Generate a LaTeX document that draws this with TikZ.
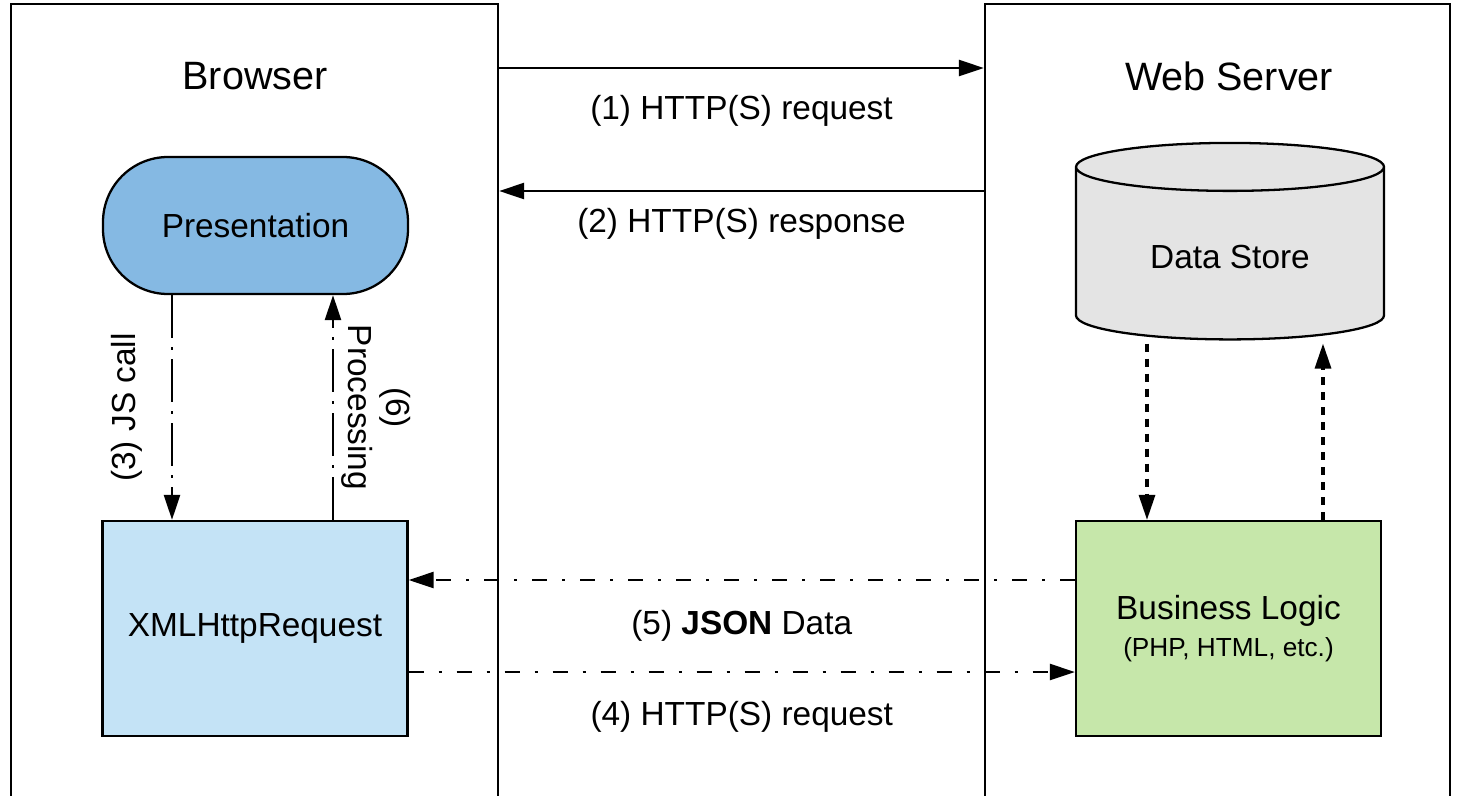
\documentclass[tikz,border=0pt]{standalone}
\usepackage{fontspec}
\setmainfont{Liberation Sans}
\usetikzlibrary{arrows.meta,shapes.geometric}
\definecolor{presblue}{HTML}{85B9E3}
\definecolor{xhrblue}{HTML}{C4E3F6}
\definecolor{logicgreen}{HTML}{C6E7AA}
\definecolor{storegray}{HTML}{E4E4E4}
\newcommand{\smalltxt}{\fontsize{14.9}{18}\selectfont}

\begin{document}
\begin{tikzpicture}[>={Triangle[length=5mm,width=3.2mm]}, line width=1.3pt,
    title/.style={font=\fontsize{22.5}{27}\selectfont},
    lbl/.style={font=\fontsize{19}{21.5}\selectfont},
    frame/.style={draw, rectangle, inner sep=0, minimum width=#1, minimum height=15.9cm},
    box/.style={draw, rectangle, lbl, align=center, minimum width=6.1cm, minimum height=4.3cm},
    dashdot/.style={dash pattern=on 0.3cm off 0.3cm on 0.06cm off 0.3cm},
    dashdotv/.style={dash pattern=on 0.86cm off 0.18cm on 0.06cm off 0.18cm},
    dots/.style={line width=1.8pt, dash pattern=on 0.16cm off 0.14cm}]
    \useasboundingbox (0,0) rectangle (29.24,-15.9);
    \node[frame=9.74cm] at (5.09,-8.03) (browser) {};
    \node[frame=9.3cm] at (24.35,-8.03) (server) {};
    \node[title] at (5.1,-1.52) (browsertitle) {Browser};
    \node[title] at (24.58,-1.52) (servertitle) {Web Server};

    \node[draw, fill=presblue, rounded corners=1.3cm, minimum width=6.1cm,
      minimum height=2.74cm, lbl] at (5.11,-4.51) (pres) {Presentation};
    \node[box, fill=xhrblue] at (5.1,-12.57) (xhr) {XMLHttpRequest};
    \node[cylinder, shape border rotate=90, draw, fill=storegray, aspect=0.28,
      minimum width=6.16cm, minimum height=3.93cm, lbl] at (24.6,-5.14) (store) {Data Store};
    \node[box, fill=logicgreen] at (24.57,-12.57) (logic)
      {Business Logic\\{\smalltxt (PHP, HTML, etc.)}};

    \draw [->] (browser.east |- 0,-1.36) -- (server.west |- 0,-1.36)
    node [lbl, midway, yshift=-0.86cm] {(1) HTTP(S) request};
    \draw [->] (server.west |- 0,-3.82) -- (browser.east |- 0,-3.82)
    node [lbl, midway, yshift=-0.66cm] {(2) HTTP(S) response};

    \draw [->, dashdotv] (pres.south -| 3.44,0) -- (xhr.north -| 3.44,0)
    node [lbl, midway, xshift=-0.9cm, rotate=90] {(3) JS call};
    \draw [->, dashdotv] (xhr.north -| 6.66,0) -- (pres.south -| 6.66,0)
    node [lbl, midway, xshift=0.86cm, rotate=-90, align=center] {(6)\\Processing};

    \draw [->, dots, shorten <=0.06cm] (store.south -| 22.94,0) -- (logic.north -| 22.94,0);
    \draw [->, dots, shorten >=0.06cm] (logic.north -| 26.46,0) -- (store.south -| 26.46,0);

    \draw [->, dashdot] (logic.west |- 0,-11.6) -- (xhr.east |- 0,-11.6)
    node [lbl, midway, yshift=-0.92cm] {(5) \textbf{JSON} Data};
    \draw [->, dashdot] (xhr.east |- 0,-13.44) -- (logic.west |- 0,-13.44)
    node [lbl, midway, yshift=-0.9cm] {(4) HTTP(S) request};
  \end{tikzpicture}
\end{document}
